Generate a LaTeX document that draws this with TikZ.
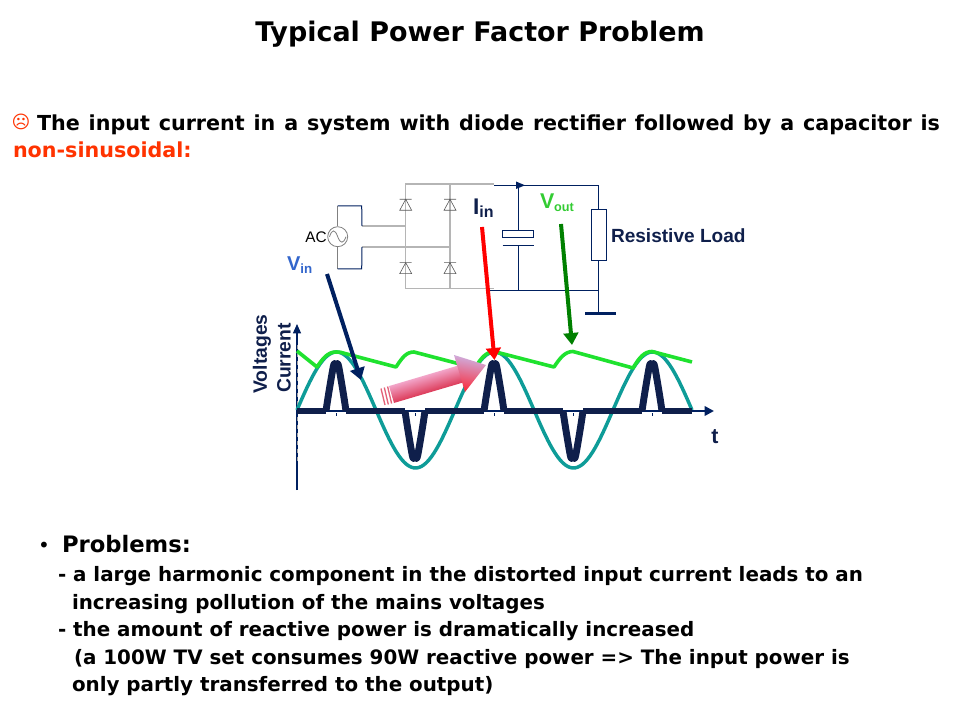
\documentclass[tikz,border=0pt]{standalone}
\usepackage{fontspec}
\setmainfont{DejaVu Sans}
\newfontfamily\arialf{Liberation Sans}
\usetikzlibrary{arrows.meta}
\definecolor{navyc}{HTML}{002060}
\definecolor{inkc}{HTML}{0F1F4B}
\definecolor{tealc}{HTML}{0E9C98}
\definecolor{limec}{HTML}{1FE22F}
\definecolor{orangec}{HTML}{FF3300}
\definecolor{bluec}{HTML}{3366CC}
\definecolor{voutc}{HTML}{33CC33}
\definecolor{darkgreenc}{HTML}{008000}
\definecolor{grayc}{HTML}{B5B5B5}
\definecolor{pinkhi}{HTML}{F2A4C8}
\definecolor{pinkmid}{HTML}{EC7896}
\definecolor{pinklo}{HTML}{DC3A58}
\definecolor{lilac}{HTML}{CDB4E6}
\definecolor{headred}{HTML}{FA2A3A}
\tikzset{
 txt/.style={inner sep=0,outer sep=0,anchor=base west,font=\bfseries\fontsize{14.9}{18}\selectfont},
 lab/.style={inner sep=0,outer sep=0,font=\arialf\bfseries\fontsize{12}{14}\selectfont,text=inkc},
 wire/.style={draw=navyc,line width=0.75pt},
 gwire/.style={draw=grayc,line width=0.85pt},
 gthick/.style={draw=grayc,line width=2pt},
 pulse/.style={draw=inkc,line width=5.2pt,line cap=butt,line join=round},
 pointer/.style={line width=3pt,-{Triangle[length=9pt,width=11pt]}},
 dio/.style={draw=black!65,line width=0.45pt},
}
\newcommand{\diodeat}[2]{\draw[dio,shift={(#1,#2)}] (-6,0)--(6,0) (0,0)--(-6,11)--(6,11)--cycle;}
\newcommand{\pulseat}[2]{\draw[pulse,shift={(#1,411)},yscale=#2] (-10,0) .. controls (-8,-14) and (-5,-32) .. (-2.8,-44) .. controls (-2,-48.5) and (-0.6,-48.5) .. (0,-45) .. controls (0.6,-48.5) and (2,-48.5) .. (2.8,-44) .. controls (5,-32) and (8,-14) .. (10,0);
\draw[navyc,line width=0.6pt] (#1,413)--(#1,416);}
\begin{document}
\begin{tikzpicture}[x=0.75pt,y=-0.75pt]
\useasboundingbox (0,0) rectangle (960,720);
\fill[white] (0,0) rectangle (960,720);
% titles
\node[txt,anchor=base,font=\bfseries\fontsize{20.2}{24}\selectfont] (title) at (480,42) {Typical Power Factor Problem};
\node[txt,text=orangec,anchor=base,font=\fontsize{13.5}{16}\selectfont] (frown) at (21,129) {☹};
\node[txt,font=\bfseries\fontsize{15.5}{19}\selectfont] (intro) at (37,131) {\makebox[677.25pt][s]{The input current in a system with diode rectifier followed by a capacitor is}};
\node[txt,text=orangec,font=\bfseries\fontsize{15.5}{19}\selectfont] (nonsin) at (13,158) {non-sinusoidal:};
% bullets
\node[txt,font=\fontsize{15}{17}\selectfont] (bul) at (38,552) {•};
\node[txt,font=\bfseries\fontsize{17}{20}\selectfont] (prob) at (62,552) {Problems:};
\node[txt] (l1) at (58,581) {- a large harmonic component in the distorted input current leads to an};
\node[txt] (l2) at (72,609) {increasing pollution of the mains voltages};
\node[txt] (l3) at (58,636) {- the amount of reactive power is dramatically increased};
\node[txt] (l4) at (74,664) {(a 100W TV set consumes 90W reactive power => The input power is};
\node[txt] (l5) at (72,691) {only partly transferred to the output)};
% bridge
\coordinate (bTL) at (405.7,184);
\coordinate (bTM) at (450,184);
\coordinate (bTR) at (494,184);
\coordinate (bBL) at (405.7,288.7);
\coordinate (bBM) at (450,288.7);
\coordinate (bBR) at (494,288.7);
\draw[gwire] (bTR)--(bTL)--(bBL)--(bBR) (bTM)--(bBM);
\coordinate (acUp) at (362,226);
\coordinate (acDn) at (362,247);
\draw[gthick] (acUp)--(405.7,226);
\draw[gthick] (acDn)--(450,247);
\diodeat{405.7}{199.3}\diodeat{450}{199.3}\diodeat{405.7}{262.7}\diodeat{450}{262.7}
% AC source
\node[draw=gray,line width=0.6pt,circle,minimum size=15pt,inner sep=0] (src) at (337.7,236.7) {};
\draw[gray,line width=0.6pt] (329.5,236.7) .. controls (332,229) and (335,229) .. (337.7,236.7) .. controls (340.4,244) and (343.4,244) .. (346,236.7);
\node[inner sep=0,font=\arialf\fontsize{11.5}{13}\selectfont,text=black] (aclab) at (316,237) {AC};
\coordinate (srcT) at (337.7,206);
\coordinate (srcB) at (337.7,269);
\draw[draw=gray,line width=0.7pt] (src.north)--(srcT) (src.south)--(srcB);
\draw[wire] (srcT)--(361.7,206)--(acUp);
\draw[wire] (srcB)--(361.7,269)--(acDn);
% output side
\coordinate (tL) at (494,185.3);
\coordinate (tC) at (518.7,185.3);
\coordinate (tR) at (598.3,185.3);
\coordinate (bL) at (490,290.3);
\coordinate (bC) at (518.7,290.3);
\coordinate (bR) at (598.3,290.3);
\coordinate (gnd) at (598.3,313.3);
\draw[wire] (tL)--(tR) (bL)--(bR);
\fill[navyc] (516,181.5) -- (525,185.3) -- (516,189) -- cycle;
\node[draw=navyc,line width=0.75pt,fill=white,minimum width=23pt,minimum height=5pt,inner sep=0] (capTop) at (518.2,234.1) {};
\coordinate (capL) at (502.7,245.3);
\coordinate (capR) at (533.7,245.3);
\coordinate (capM) at (518.7,245.3);
\draw[wire] (capL)--(capR);
\draw[wire] (tC)--(capTop.north-|tC);
\draw[wire] (capM)--(bC);
\node[draw=navyc,line width=0.75pt,fill=white,minimum width=11pt,minimum height=38.25pt,inner sep=0] (res) at (599,234.8) {};
\draw[wire] (tR)--(res.north-|tR);
\draw[wire] (res.south-|bR)--(gnd);
\draw[draw=navyc,line width=2pt] (585,313.3)--(616,313.3);
\node[lab,anchor=west,font=\arialf\bfseries\fontsize{14.3}{17}\selectfont] (rl) at (611,236) {Resistive Load};
% graph
\coordinate (o) at (297,411);
\coordinate (yTop) at (297,324);
\coordinate (yBot) at (297,490);
\coordinate (xEnd) at (714,411);
\draw[draw=navyc,line width=0.9pt,-{Triangle[length=7pt,width=6pt]}] (yBot)--(yTop);
\draw[gray!70,line width=0.6pt,dashed] (297,345)--(297,462);
\draw[tealc,line width=2.6pt] plot[domain=297:692,samples=160] (\x,{410-58*sin((\x-297)*2.278481)});
\draw[draw=navyc,line width=2.2pt,-{Triangle[length=7pt,width=7pt]}] (o)--(xEnd);
\draw[inkc,line width=4.4pt] (297,411)--(326,411) (346,411)--(405,411) (425,411)--(484,411) (504,411)--(563,411) (583,411)--(642,411) (662,411)--(692,411);
\pulseat{336}{1}\pulseat{415}{-1}\pulseat{494}{1}\pulseat{573}{-1}\pulseat{652}{1}
\draw[limec,line width=2.7pt,line join=round] (297,351)--(317,367) .. controls (323,358) and (328,352) .. (336,352) .. controls (340,352) and (342,352.5) .. (345,353.5)
 --(396,367) .. controls (402,358) and (406,352) .. (414,352) --(475,368) .. controls (481,358) and (486,352) .. (494,351.5) --(554,367) .. controls (560,358) and (565,351.5) .. (573,351.5) --(633,368) .. controls (639,358) and (644,351.5) .. (652,351.5) --(692,362);
\node[lab,rotate=90,font=\arialf\bfseries\fontsize{14.5}{17}\selectfont] (volt) at (262,354) {Voltages};
\node[lab,rotate=90,font=\arialf\bfseries\fontsize{14.5}{17}\selectfont] (curr) at (284,358) {Current};
\node[lab,font=\arialf\bfseries\fontsize{16}{18}\selectfont] (tlab) at (715,437) {t};
% labels with pointers
\node[lab,anchor=base west,text=inkc,font=\arialf\bfseries\fontsize{17}{19}\selectfont] (iin) at (473,215) {I\raisebox{-2pt}{\fontsize{12}{13}\selectfont in}};
\node[lab,anchor=base west,text=voutc,font=\arialf\bfseries\fontsize{16}{18}\selectfont] (vout) at (540,209) {V\raisebox{-2pt}{\fontsize{9.5}{12}\selectfont out}};
\node[lab,anchor=base west,text=bluec,font=\arialf\bfseries\fontsize{15}{17}\selectfont] (vin) at (287,271) {V\raisebox{-2pt}{\fontsize{10}{12}\selectfont in}};
\coordinate (vinS) at (327,274);
\coordinate (vinE) at (361,380);
\coordinate (iinS) at (482,227);
\coordinate (iinE) at (494.5,360);
\coordinate (vouS) at (561,224);
\coordinate (vouE) at (572,345);
\draw[pointer,navyc] (vinS)--(vinE);
\draw[pointer,darkgreenc] (vouS)--(vouE);
\draw[pointer,red] (iinS)--(iinE);
% pink arrow
\draw[line width=1pt,draw=pinklo!80!white] (381,388.5)--(385,405) (384.3,387.5)--(388.3,404.5) (387.6,386.5)--(391.6,403.5);
\begin{scope}[transform canvas={shift={(391.5,394.5)},rotate=16.5}]
\shade[top color=pinkhi,middle color=pinkmid,bottom color=pinklo] (0,-8.8) rectangle (74,8.8);
\end{scope}
\shade[top color=lilac,middle color=pinkmid,bottom color=headred,shading angle=-10]
 (486,365)--(454,355)--(465,392)--cycle;
\end{tikzpicture}
\end{document}
